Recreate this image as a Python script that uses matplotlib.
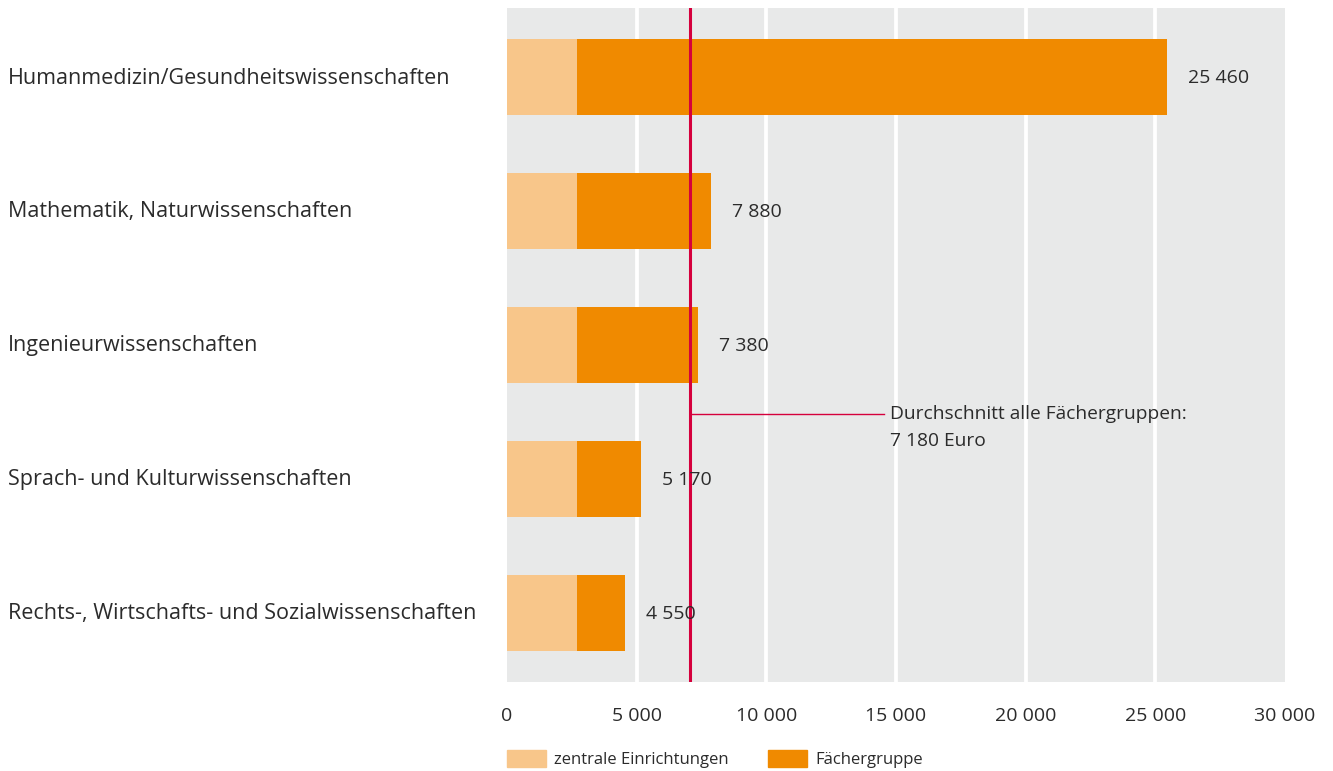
import numpy as np
import matplotlib.pyplot as plt
from matplotlib.patches import Rectangle

plt.rcParams['font.family'] = ['Open Sans', 'DejaVu Sans']

categories = ['Humanmedizin/Gesundheitswissenschaften',
              'Mathematik, Naturwissenschaften',
              'Ingenieurwissenschaften',
              'Sprach- und Kulturwissenschaften',
              'Rechts-, Wirtschafts- und Sozialwissenschaften']
totals = [25460, 7880, 7380, 5170, 4550]
zentral = [2700, 2700, 2700, 2700, 2700]
faecher = [t - z for t, z in zip(totals, zentral)]
avg_pos = 7050
avg_lines = ['Durchschnitt alle Fächergruppen:', '7 180 Euro']
xticks = [0, 5000, 10000, 15000, 20000, 25000, 30000]

c_light = '#F8C68A'
c_dark = '#F08A00'
c_red = '#D5003C'
c_text = '#2B2B2B'

def fmt(v):
    return f'{v:,}'.replace(',', ' ')

fig = plt.figure(figsize=(13.33, 7.71), dpi=100)
ax = fig.add_axes([507/1333, 1 - 682/771, (1285-507)/1333, (682-8)/771])
ax.set_facecolor('#E8E9E9')

y = np.arange(len(categories))
ax.barh(y, zentral, height=0.567, color=c_light, zorder=2)
ax.barh(y, faecher, left=zentral, height=0.567, color=c_dark, zorder=2)

for yy, t in zip(y, totals):
    ax.text(t + 800, yy + 0.01, fmt(t), va='center', ha='left', fontsize=14, color=c_text, zorder=4)

ax.set_xlim(0, 30000)
ax.set_ylim(len(categories) - 0.485, -0.515)
for xt in xticks[1:-1]:
    ax.axvline(xt, color='white', lw=2.7, zorder=1)

ax.axvline(avg_pos, color=c_red, lw=2.2, zorder=3)
ax.plot([avg_pos, 14550], [2.515, 2.515], color=c_red, lw=1, zorder=3)
ax.text(14750, 2.515, avg_lines[0], va='center', ha='left', fontsize=13.8, color=c_text)
ax.text(14750, 2.72, avg_lines[1], va='center', ha='left', fontsize=13.8, color=c_text)

for s in ax.spines.values():
    s.set_visible(False)
ax.set_xticks(xticks)
ax.set_xticklabels([fmt(v) for v in xticks], fontsize=14, color=c_text)
ax.tick_params(axis='x', length=0, pad=18)
ax.set_yticks([])

for yy, cat in zip(y, categories):
    fig.text(8/1333, 1 - (77 + 134*yy + 1)/771, cat, ha='left', va='center',
             fontsize=15.5, color=c_text)

# legend
for x0, lab in [(507, 'zentrale Einrichtungen'), (768, 'Fächergruppe')]:
    col = c_light if x0 == 507 else c_dark
    fig.patches.append(Rectangle((x0/1333, 1 - 767/771), 39/1333, 17/771,
                                 transform=fig.transFigure, color=col))
    fig.text((x0 + 47)/1333, 1 - 760/771, lab, ha='left', va='center',
             fontsize=12, color=c_text)

fig.savefig('out.png', dpi=100)
